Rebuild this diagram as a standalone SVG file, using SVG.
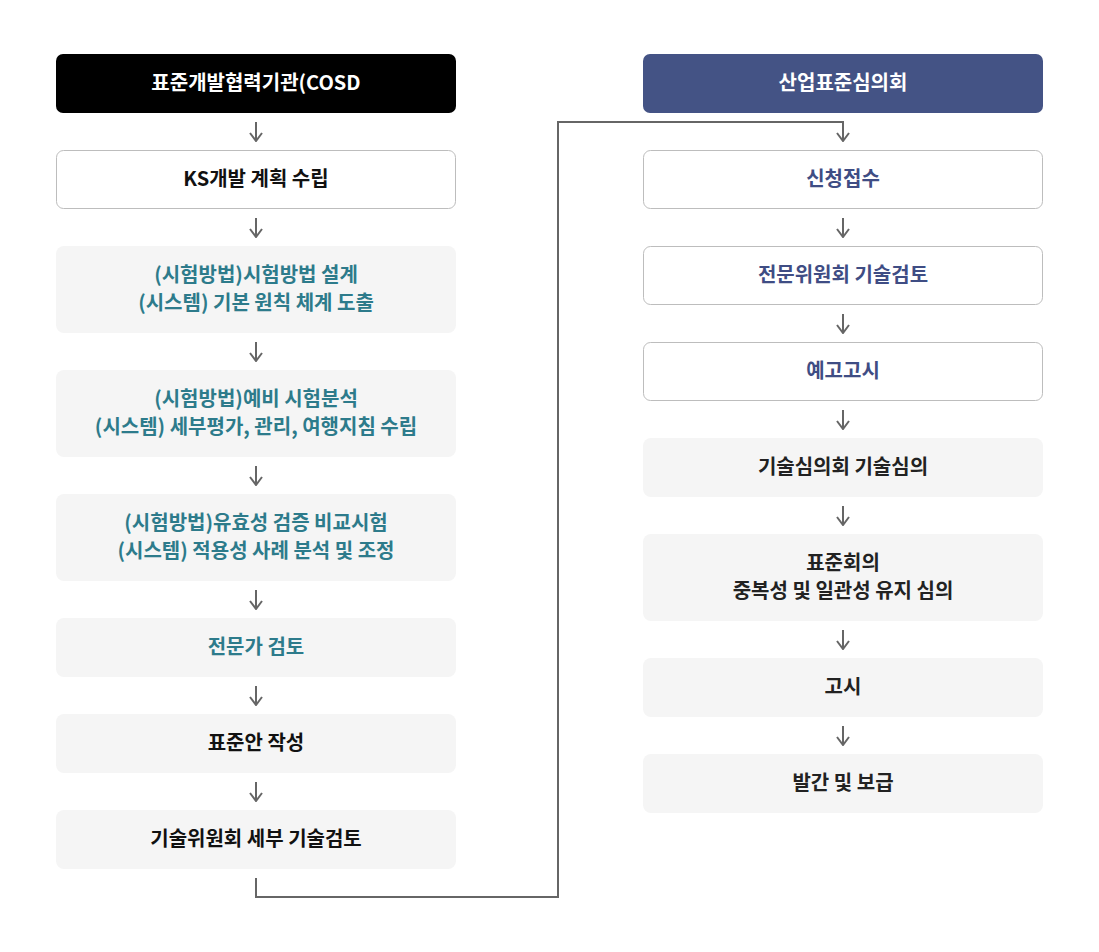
<svg xmlns="http://www.w3.org/2000/svg" width="1099" height="952" viewBox="0 0 1099 952">
<defs>
<style>
text{font-family:"Noto Sans CJK KR","Noto Sans",sans-serif;font-size:20px;font-weight:700;text-anchor:middle}
.hdr{fill:#000}
.hdr2{fill:#445385}
.w{fill:#fff;stroke:#bdbdbd;stroke-width:1}
.g{fill:#f5f5f5}
.tw{fill:#fff}
.tk{fill:#111}
.tt{fill:#2d7b8b}
.tb{fill:#3f4d84}
.tg{fill:#222}
.c{fill:none;stroke:#666;stroke-width:2}
</style>
<marker id="ah" viewBox="0 0 10 14" refX="9" refY="7" markerWidth="10" markerHeight="14" markerUnits="userSpaceOnUse" orient="auto">
<path d="M1,1 L9,7 L1,13" fill="none" stroke="#666" stroke-width="2"/>
</marker>
</defs>
<rect width="1099" height="952" fill="#fff"/>

<g id="left-header"><rect x="56" y="54" width="400" height="59" rx="7" class="hdr"/><text x="256" y="90" class="tw">표준개발협력기관(COSD</text></g>
<g id="l1"><rect x="56.5" y="150.5" width="399" height="58" rx="7" class="w"/><text x="256" y="186" class="tk">KS개발 계획 수립</text></g>
<g id="l2"><rect x="56" y="246" width="400" height="87" rx="8" class="g"/><text x="256" y="282" class="tt">(시험방법)시험방법 설계</text><text x="256" y="310" class="tt">(시스템) 기본 원칙 체계 도출</text></g>
<g id="l3"><rect x="56" y="370" width="400" height="87" rx="8" class="g"/><text x="256" y="406" class="tt">(시험방법)예비 시험분석</text><text x="256" y="434" class="tt">(시스템) 세부평가, 관리, 여행지침 수립</text></g>
<g id="l4"><rect x="56" y="494" width="400" height="87" rx="8" class="g"/><text x="256" y="530" class="tt">(시험방법)유효성 검증 비교시험</text><text x="256" y="558" class="tt">(시스템) 적용성 사례 분석 및 조정</text></g>
<g id="l5"><rect x="56" y="618" width="400" height="59" rx="8" class="g"/><text x="256" y="654" class="tt">전문가 검토</text></g>
<g id="l6"><rect x="56" y="714" width="400" height="59" rx="8" class="g"/><text x="256" y="750" class="tk">표준안 작성</text></g>
<g id="l7"><rect x="56" y="810" width="400" height="59" rx="8" class="g"/><text x="256" y="846" class="tk">기술위원회 세부 기술검토</text></g>

<g id="right-header"><rect x="643" y="54" width="400" height="59" rx="7" class="hdr2"/><text x="843" y="90" class="tw">산업표준심의회</text></g>
<g id="r1"><rect x="643.5" y="150.5" width="399" height="58" rx="7" class="w"/><text x="843" y="186" class="tb">신청접수</text></g>
<g id="r2"><rect x="643.5" y="246.5" width="399" height="58" rx="7" class="w"/><text x="843" y="282" class="tb">전문위원회 기술검토</text></g>
<g id="r3"><rect x="643.5" y="342.5" width="399" height="58" rx="7" class="w"/><text x="843" y="378" class="tb">예고고시</text></g>
<g id="r4"><rect x="643" y="438" width="400" height="59" rx="8" class="g"/><text x="843" y="474" class="tg">기술심의회 기술심의</text></g>
<g id="r5"><rect x="643" y="534" width="400" height="87" rx="8" class="g"/><text x="843" y="570" class="tg">표준회의</text><text x="843" y="598" class="tg">중복성 및 일관성 유지 심의</text></g>
<g id="r6"><rect x="643" y="658" width="400" height="59" rx="8" class="g"/><text x="843" y="694" class="tg">고시</text></g>
<g id="r7"><rect x="643" y="754" width="400" height="59" rx="8" class="g"/><text x="843" y="790" class="tg">발간 및 보급</text></g>

<g id="connectors">
<line x1="256" y1="122" x2="256" y2="141" class="c" marker-end="url(#ah)"/>
<line x1="256" y1="218" x2="256" y2="237" class="c" marker-end="url(#ah)"/>
<line x1="256" y1="342" x2="256" y2="361" class="c" marker-end="url(#ah)"/>
<line x1="256" y1="466" x2="256" y2="485" class="c" marker-end="url(#ah)"/>
<line x1="256" y1="590" x2="256" y2="609" class="c" marker-end="url(#ah)"/>
<line x1="256" y1="686" x2="256" y2="705" class="c" marker-end="url(#ah)"/>
<line x1="256" y1="782" x2="256" y2="801" class="c" marker-end="url(#ah)"/>
<polyline points="256,878 256,897 558,897 558,122 843,122 843,141" class="c" marker-end="url(#ah)"/>
<line x1="843" y1="218" x2="843" y2="237" class="c" marker-end="url(#ah)"/>
<line x1="843" y1="314" x2="843" y2="333" class="c" marker-end="url(#ah)"/>
<line x1="843" y1="410" x2="843" y2="429" class="c" marker-end="url(#ah)"/>
<line x1="843" y1="506" x2="843" y2="525" class="c" marker-end="url(#ah)"/>
<line x1="843" y1="630" x2="843" y2="649" class="c" marker-end="url(#ah)"/>
<line x1="843" y1="726" x2="843" y2="745" class="c" marker-end="url(#ah)"/>
</g>
</svg>
